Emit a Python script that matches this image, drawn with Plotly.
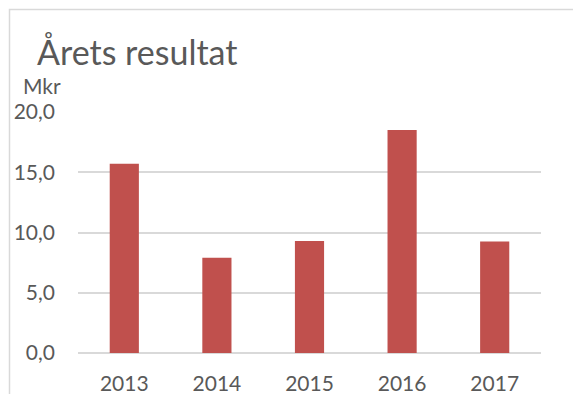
import plotly.graph_objects as go

# Annual result, million SEK
years = ["2013", "2014", "2015", "2016", "2017"]
result_mkr = [15.7, 7.9, 9.3, 18.5, 9.25]
y_ticks = [0, 5, 10, 15, 20]

W, H = 573, 394
ML, MR, MT, MB = 78, 32, 112, 41
PW, PH = W - ML - MR, H - MT - MB
FONT = "Lato"
TEXT_GREY = "#595959"
GRID_GREY = "#D9D9D9"
BAR_RED = "#C0504D"

fig = go.Figure(
    go.Bar(
        x=years,
        y=result_mkr,
        marker=dict(color=BAR_RED, line=dict(width=0)),
        width=0.315,
    )
)

fig.update_layout(
    width=W,
    height=H,
    margin=dict(l=ML, r=MR, t=MT, b=MB, autoexpand=False),
    paper_bgcolor="white",
    plot_bgcolor="white",
    separators=", ",
    showlegend=False,
    font=dict(family=FONT, color=TEXT_GREY, size=21),
    title=dict(
        text="Årets resultat",
        font=dict(family=FONT, size=34, color=TEXT_GREY),
        xref="container",
        yref="container",
        x=37 / W,
        xanchor="left",
        y=1 - 53 / H,
        yanchor="middle",
        pad=dict(l=0, r=0, t=0, b=0),
    ),
    xaxis=dict(
        automargin=False,
        showgrid=False,
        showline=False,
        zeroline=False,
        ticks="",
        ticklabelstandoff=16,
        tickfont=dict(family=FONT, size=21, color=TEXT_GREY),
    ),
    yaxis=dict(
        automargin=False,
        range=[0, 20],
        tickvals=y_ticks,
        tickformat=".1f",
        showgrid=True,
        gridcolor=GRID_GREY,
        gridwidth=1.5,
        zeroline=True,
        zerolinecolor=GRID_GREY,
        zerolinewidth=1.5,
        showline=False,
        ticks="",
        ticklabelstandoff=22,
        tickfont=dict(family=FONT, size=21, color=TEXT_GREY),
    ),
    annotations=[
        dict(
            text="Mkr",
            xref="paper",
            yref="paper",
            x=-(ML - 21) / PW,
            y=1 + (MT - 86) / PH,
            xanchor="left",
            yanchor="middle",
            showarrow=False,
            font=dict(family=FONT, size=21, color=TEXT_GREY),
        )
    ],
    shapes=[
        # chart frame: only top and left edges fall inside the view
        dict(
            type="rect",
            xref="paper",
            yref="paper",
            x0=-(ML - 9.5) / PW,
            x1=1 + 60 / PW,
            y0=-60 / PH,
            y1=1 + (MT - 9.5) / PH,
            line=dict(color=GRID_GREY, width=1.5),
            layer="below",
        )
    ],
)

fig.write_html("out.html")
